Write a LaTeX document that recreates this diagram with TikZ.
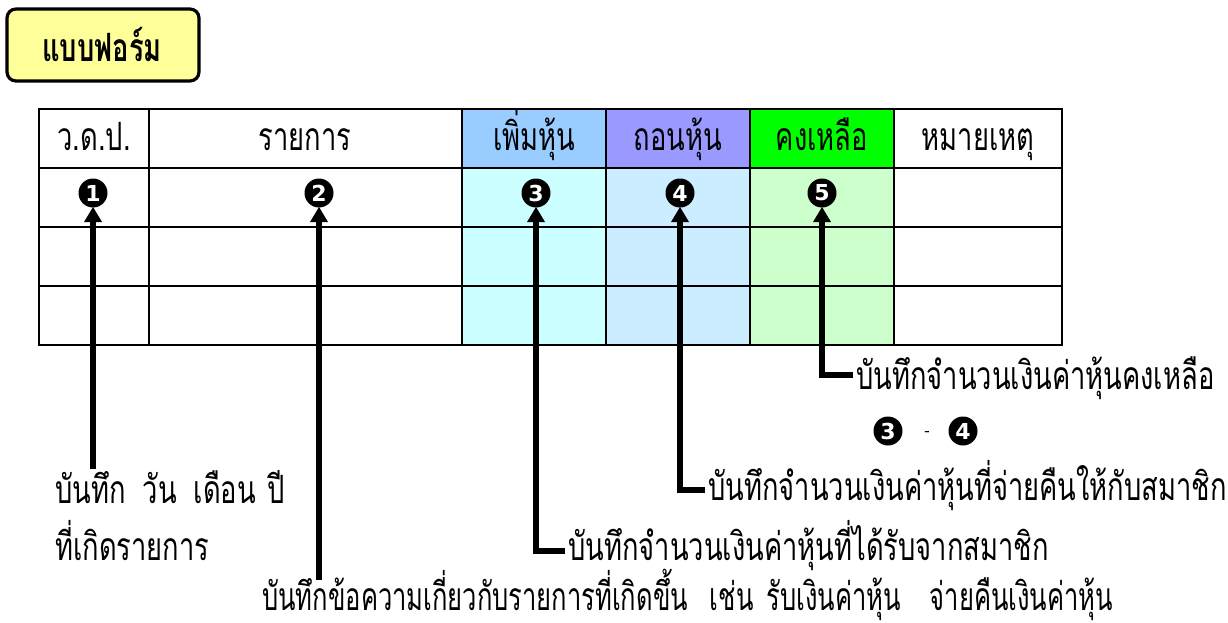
\documentclass[tikz,border=0pt]{standalone}
\usepackage{fontspec}
\newfontfamily\thai[Script=Thai,FakeStretch=0.7]{Loma}
\newfontfamily\thaiN[Script=Thai,FakeStretch=0.655]{Loma}
\newfontfamily\numfont{DejaVu Sans}
\usetikzlibrary{calc}
\definecolor{titlebg}{HTML}{FFFF99}
\definecolor{hblue}{HTML}{99CCFF}
\definecolor{hviolet}{HTML}{9999FF}
\definecolor{hgreen}{HTML}{00FF00}
\definecolor{bcyan}{HTML}{CCFFFF}
\definecolor{bblue}{HTML}{CCECFF}
\definecolor{bgreen}{HTML}{CCFFCC}
\tikzset{
  num/.style={circle,fill=black,text=white,inner sep=0pt,minimum size=29pt,font=\numfont\bfseries\fontsize{22}{22}\selectfont},
  thtext/.style={inner sep=0pt,anchor=base west,font=\thai\fontsize{39}{39}\selectfont},
  head/.style={inner sep=0pt,anchor=base,font=\thai\fontsize{39}{39}\selectfont},
  shaft/.style={line width=5.5pt},
  tablegrid/.style={line width=2.6pt}
}
% filled arrow head whose point touches the bottom of the number node #1
\newcommand{\headat}[1]{\fill (#1.center) ++(0,14) -- ++(-9,15) -- ++(18,0) -- cycle;}
\begin{document}
\begin{tikzpicture}[x=1pt,y=-1pt]
\useasboundingbox (0,0) rectangle (1228,623);
% title
\node[draw,line width=3.2pt,rounded corners=9pt,fill=titlebg,minimum width=192pt,minimum height=72pt,inner sep=0pt] (title) at (103,45) {};
\node[inner sep=0pt,anchor=base,font=\thai\bfseries\fontsize{39}{39}\selectfont] (titletext) at (102,62) {แบบฟอร์ม};
% fills
\fill[hblue] (462,109) rectangle (606,168);
\fill[hviolet] (606,109) rectangle (750,168);
\fill[hgreen] (750,109) rectangle (894,168);
\fill[bcyan] (462,168) rectangle (606,345);
\fill[bblue] (606,168) rectangle (750,345);
\fill[bgreen] (750,168) rectangle (894,345);
% grid
\draw[tablegrid] (39,109) rectangle (1062,345);
\foreach \yy in {168,227,286} \draw[tablegrid] (39,\yy) -- (1062,\yy);
\foreach \xx in {149,462,606,750,894} \draw[tablegrid] (\xx,109) -- (\xx,345);
% headers
\node[head] (h1) at (94,150) {ว.ด.ป.};
\node[head] (h2) at (305,150) {รายการ};
\node[head] (h3) at (534,150) {เพิ่มหุ้น};
\node[head] (h4) at (678,150) {ถอนหุ้น};
\node[head] (h5) at (822,150) {คงเหลือ};
\node[head] (h6) at (978,150) {หมายเหตุ};
% numbers
\node[num] (n1) at (93,193) {1};
\node[num] (n2) at (319,193) {2};
\node[num] (n3) at (536,193) {3};
\node[num] (n4) at (680,193) {4};
\node[num] (n5) at (822,193) {5};
\node[num] (m3) at (888,431) {3};
\node[inner sep=0pt,font=\numfont\fontsize{16}{16}\selectfont] (minus) at (927,434) {-};
\node[num] (m4) at (963,431) {4};
% labels
\node[thtext] (t1a) at (55,503) {บันทึก\hspace{17pt}วัน\hspace{17pt}เดือน\hspace{12pt}ปี};
\node[thtext] (t1b) at (55,560) {ที่เกิดรายการ};
\node[thtext,font=\thaiN\fontsize{39}{39}\selectfont] (t2) at (262,610) {บันทึกข้อความเกี่ยวกับรายการที่เกิดขึ้น\hspace{22pt}เช่น\hspace{13pt}รับเงินค่าหุ้น\hspace{29pt}จ่ายคืนเงินค่าหุ้น};
\node[thtext] (t3) at (568,560) {บันทึกจำนวนเงินค่าหุ้นที่ได้รับจากสมาชิก};
\node[thtext] (t4) at (708,500) {บันทึกจำนวนเงินค่าหุ้นที่จ่ายคืนให้กับสมาชิก};
\node[thtext] (t5) at (856,389) {บันทึกจำนวนเงินค่าหุ้นคงเหลือ};
% connectors
\coordinate (c1) at (93,469);
\coordinate (c2) at (319,580);
\draw[shaft] (c1) -- ($(n1.center)+(0,27)$);
\headat{n1}
\draw[shaft] (c2) -- ($(n2.center)+(0,27)$);
\headat{n2}
\draw[shaft] ([xshift=-3pt,yshift=9pt]t3.base west) -| ($(n3.center)+(0,27)$);
\headat{n3}
\draw[shaft] ([xshift=-3pt,yshift=10pt]t4.base west) -| ($(n4.center)+(0,27)$);
\headat{n4}
\draw[shaft] ([xshift=-3pt,yshift=14pt]t5.base west) -| ($(n5.center)+(0,27)$);
\headat{n5}
\end{tikzpicture}
\end{document}
